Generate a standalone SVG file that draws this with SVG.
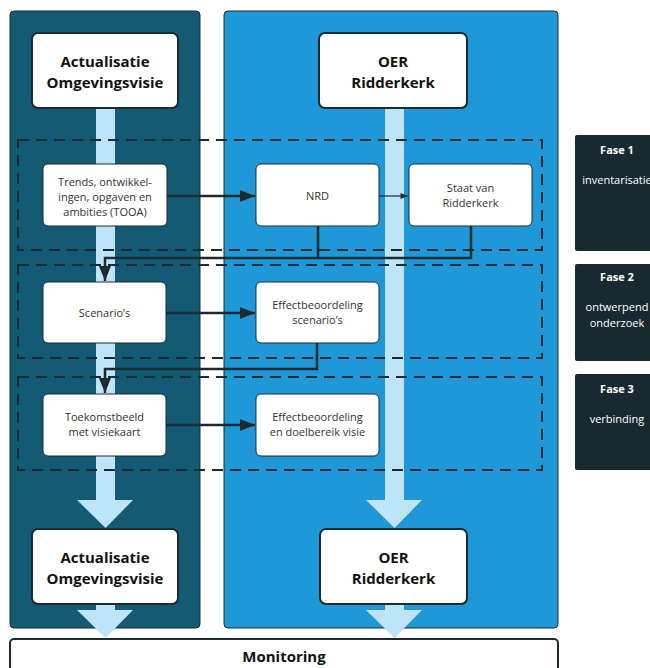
<svg xmlns="http://www.w3.org/2000/svg" width="650" height="668" viewBox="0 0 650 668">
<defs>
<style>
.panelL{fill:#135b74;stroke:#1b2b30;stroke-width:1}
.panelR{fill:#1e98d6;stroke:#1b2b30;stroke-width:1}
.bar{fill:#bfe4f8}
.dash{fill:none;stroke:#1b2b30;stroke-width:2;stroke-dasharray:11 7}
.big{fill:#fff;stroke:#1b2b30;stroke-width:2}
.node{fill:#fff;stroke:#1b2b30;stroke-width:1}
.bt{font-family:"Open Sans","Noto Sans",sans-serif;font-weight:bold;font-size:15px;fill:#111;text-anchor:middle}
.nt{font-family:"Open Sans","Noto Sans",sans-serif;font-size:11px;fill:#333;text-anchor:middle}
.phase{fill:#182a2f}
.pt{font-family:"Open Sans","Noto Sans",sans-serif;font-size:11px;fill:#fff;text-anchor:middle}
.ptb{font-family:"Open Sans","Noto Sans",sans-serif;font-size:11px;font-weight:bold;fill:#fff;text-anchor:middle}
.conn{fill:none;stroke:#1b2b30;stroke-width:2.5}
.thin{fill:none;stroke:#1b2b30;stroke-width:1.2}
</style>
<marker id="ah" viewBox="0 0 10 8" refX="10" refY="4" markerWidth="6" markerHeight="4.8" markerUnits="strokeWidth" orient="auto">
<path d="M0,0 L10,4 L0,8 z" fill="#1b2b30"/>
</marker>
<marker id="ahs" viewBox="0 0 10 8" refX="10" refY="4" markerWidth="7" markerHeight="5" markerUnits="strokeWidth" orient="auto">
<path d="M0,0 L10,4 L0,8 z" fill="#1b2b30"/>
</marker>
</defs>
<rect width="650" height="668" fill="#fff"/>

<g id="panels">
<rect class="panelL" x="10" y="11" width="190" height="617" rx="4"/>
<rect class="panelR" x="224" y="11" width="334" height="617" rx="4"/>
</g>

<g id="flow-bars">
<rect class="bar" x="96" y="108" width="19" height="393"/>
<polygon class="bar" points="77,500 133,500 105.5,528"/>
<rect class="bar" x="96" y="603" width="19" height="8"/>
<polygon class="bar" points="77,610 133,610 105.5,638"/>
<rect class="bar" x="385" y="108" width="19" height="393"/>
<polygon class="bar" points="366,500 422,500 394.5,528"/>
<rect class="bar" x="385" y="603" width="19" height="8"/>
<polygon class="bar" points="366,610 422,610 394.5,638"/>
</g>

<g id="phase-frames">
<rect class="dash" x="18" y="140" width="524" height="110"/>
<rect class="dash" x="18" y="265" width="524" height="93"/>
<rect class="dash" x="18" y="377" width="524" height="93"/>
</g>

<g id="connectors">
<line class="conn" x1="167" y1="196" x2="255" y2="196" marker-end="url(#ah)"/>
<line class="thin" x1="379" y1="196" x2="408" y2="196" marker-end="url(#ahs)"/>
<path class="conn" d="M318,226 V258"/>
<path class="conn" d="M471,226 V258 H105 V281" marker-end="url(#ah)"/>
<line class="conn" x1="166" y1="313" x2="255" y2="313" marker-end="url(#ah)"/>
<path class="conn" d="M317,343 V369 H105 V393" marker-end="url(#ah)"/>
<line class="conn" x1="166" y1="425" x2="255" y2="425" marker-end="url(#ah)"/>
</g>

<g id="node-actualisatie-top">
<rect class="big" x="32" y="33" width="146" height="75" rx="6"/>
<text class="bt" x="105" y="67">Actualisatie</text>
<text class="bt" x="105" y="88">Omgevingsvisie</text>
</g>
<g id="node-oer-top">
<rect class="big" x="319" y="33" width="148" height="75" rx="6"/>
<text class="bt" x="393" y="67">OER</text>
<text class="bt" x="393" y="88">Ridderkerk</text>
</g>

<g id="node-tooa">
<rect class="node" x="43" y="164" width="124" height="62" rx="5"/>
<text class="nt" x="105" y="186">Trends, ontwikkel-</text>
<text class="nt" x="105" y="201">ingen, opgaven en</text>
<text class="nt" x="105" y="216">ambities (TOOA)</text>
</g>
<g id="node-nrd">
<rect class="node" x="256" y="164" width="123" height="62" rx="5"/>
<text class="nt" x="317.5" y="200">NRD</text>
</g>
<g id="node-staat">
<rect class="node" x="409" y="164" width="123" height="62" rx="5"/>
<text class="nt" x="470.5" y="192">Staat van</text>
<text class="nt" x="470.5" y="207">Ridderkerk</text>
</g>

<g id="node-scenarios">
<rect class="node" x="43" y="282" width="123" height="61" rx="5"/>
<text class="nt" x="104.5" y="317">Scenario’s</text>
</g>
<g id="node-eb-scenarios">
<rect class="node" x="256" y="282" width="123" height="61" rx="5"/>
<text class="nt" x="317.5" y="309">Effectbeoordeling</text>
<text class="nt" x="317.5" y="324">scenario’s</text>
</g>

<g id="node-toekomstbeeld">
<rect class="node" x="43" y="394" width="123" height="62" rx="5"/>
<text class="nt" x="104.5" y="421">Toekomstbeeld</text>
<text class="nt" x="104.5" y="436">met visiekaart</text>
</g>
<g id="node-eb-visie">
<rect class="node" x="256" y="394" width="123" height="62" rx="5"/>
<text class="nt" x="317.5" y="421">Effectbeoordeling</text>
<text class="nt" x="317.5" y="436">en doelbereik visie</text>
</g>

<g id="node-actualisatie-bottom">
<rect class="big" x="32" y="529" width="146" height="75" rx="6"/>
<text class="bt" x="105" y="563">Actualisatie</text>
<text class="bt" x="105" y="584">Omgevingsvisie</text>
</g>
<g id="node-oer-bottom">
<rect class="big" x="320" y="529" width="147" height="75" rx="6"/>
<text class="bt" x="393.5" y="563">OER</text>
<text class="bt" x="393.5" y="584">Ridderkerk</text>
</g>

<g id="node-monitoring">
<rect class="big" x="10" y="639" width="548" height="40" rx="4"/>
<text class="bt" x="284" y="662">Monitoring</text>
</g>

<g id="node-fase1">
<rect class="phase" x="575" y="135" width="85" height="116" rx="2"/>
<text class="ptb" x="617" y="154">Fase 1</text>
<text class="pt" x="617" y="184">inventarisatie</text>
</g>
<g id="node-fase2">
<rect class="phase" x="575" y="264" width="85" height="97" rx="2"/>
<text class="ptb" x="617" y="281">Fase 2</text>
<text class="pt" x="617" y="311">ontwerpend</text>
<text class="pt" x="617" y="327">onderzoek</text>
</g>
<g id="node-fase3">
<rect class="phase" x="575" y="374" width="85" height="96" rx="2"/>
<text class="ptb" x="617" y="393">Fase 3</text>
<text class="pt" x="617" y="423">verbinding</text>
</g>
</svg>
